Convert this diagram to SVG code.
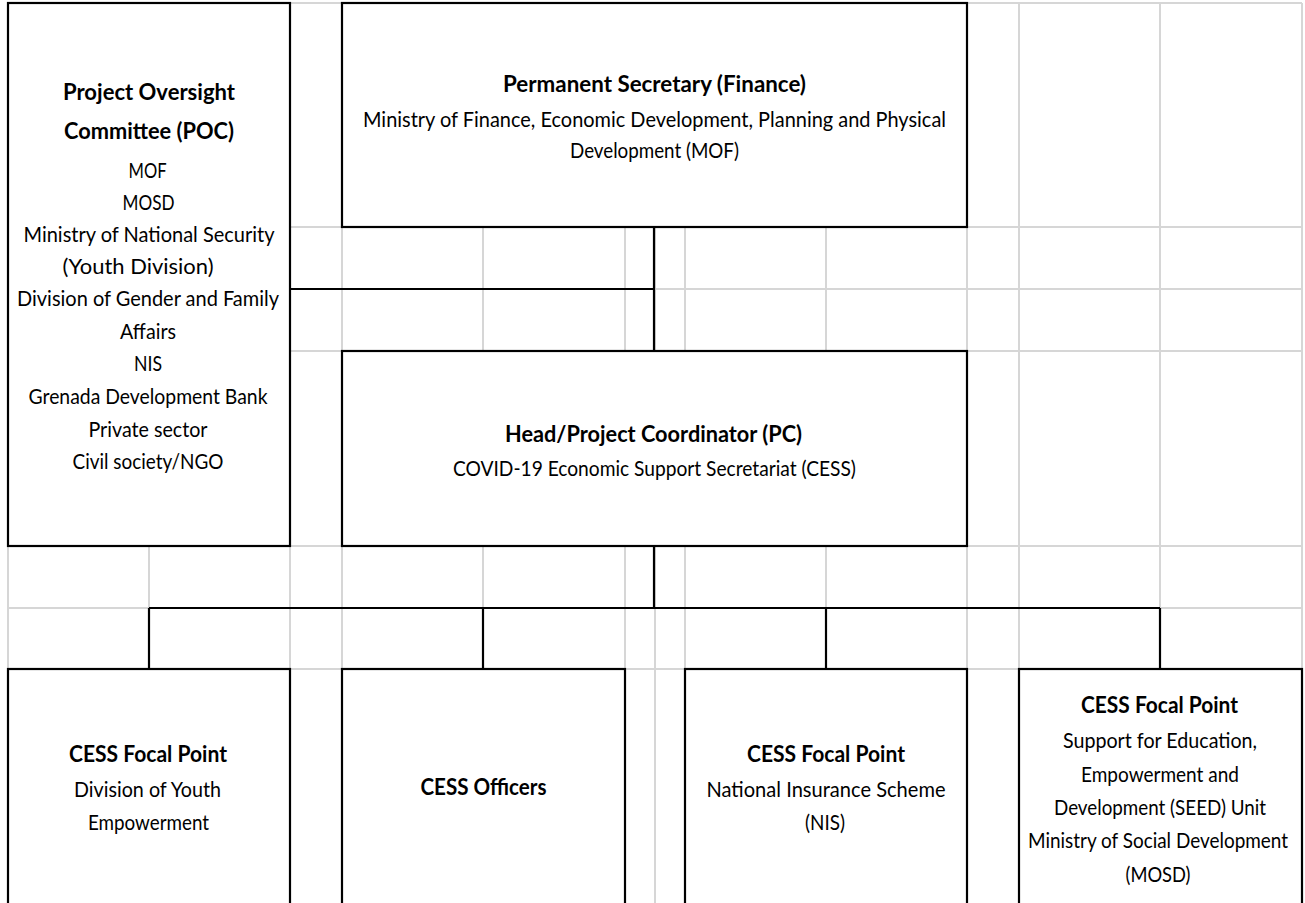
<svg xmlns="http://www.w3.org/2000/svg" width="1305" height="903" viewBox="0 0 1305 903">
<style>
.grid line{stroke:#d6d6d6;stroke-width:2}
.box{fill:#fff;stroke:#000;stroke-width:2.2}
.conn path{fill:none;stroke:#000;stroke-width:2.2}
text{font-family:Lato,"Open Sans","Liberation Sans",sans-serif;fill:#000;text-anchor:middle}
.b{font-weight:700;font-size:23px}
.r{font-weight:400;font-size:21px}
</style>
<rect width="1305" height="903" fill="#fff"/>
<g class="grid">
<line x1="8" y1="3" x2="8" y2="903"/>
<line x1="149" y1="3" x2="149" y2="903"/>
<line x1="290" y1="3" x2="290" y2="903"/>
<line x1="342" y1="3" x2="342" y2="903"/>
<line x1="483" y1="3" x2="483" y2="903"/>
<line x1="625" y1="3" x2="625" y2="903"/>
<line x1="655" y1="3" x2="655" y2="903"/>
<line x1="685" y1="3" x2="685" y2="903"/>
<line x1="826" y1="3" x2="826" y2="903"/>
<line x1="967" y1="3" x2="967" y2="903"/>
<line x1="1019" y1="3" x2="1019" y2="903"/>
<line x1="1160" y1="3" x2="1160" y2="903"/>
<line x1="1302" y1="3" x2="1302" y2="903"/>
<line x1="8" y1="3" x2="1302" y2="3"/>
<line x1="8" y1="227" x2="1302" y2="227"/>
<line x1="8" y1="289" x2="1302" y2="289"/>
<line x1="8" y1="351" x2="1302" y2="351"/>
<line x1="8" y1="546" x2="1302" y2="546"/>
<line x1="8" y1="608" x2="1302" y2="608"/>
<line x1="8" y1="669" x2="1302" y2="669"/>
</g>
<g class="conn">
<path d="M654,227 V351"/>
<path d="M290,289 H654"/>
<path d="M654,546 V608"/>
<path d="M149,608 H1160"/>
<path d="M149,608 V669"/>
<path d="M483,608 V669"/>
<path d="M826,608 V669"/>
<path d="M1160,608 V669"/>
</g>
<g id="poc">
<rect class="box" x="8" y="3" width="282" height="543"/>
<text class="b" x="149" y="100" textLength="172" lengthAdjust="spacingAndGlyphs">Project Oversight</text>
<text class="b" x="149" y="139" textLength="170" lengthAdjust="spacingAndGlyphs">Committee (POC)</text>
<text class="r" x="147.5" y="178" textLength="38" lengthAdjust="spacingAndGlyphs">MOF</text>
<text class="r" x="148.5" y="210" textLength="52" lengthAdjust="spacingAndGlyphs">MOSD</text>
<text class="r" x="149" y="242" textLength="251" lengthAdjust="spacingAndGlyphs">Ministry of National Security</text>
<text class="r" x="138" y="274" textLength="151" lengthAdjust="spacingAndGlyphs">(Youth Division)</text>
<text class="r" x="148" y="306" textLength="262" lengthAdjust="spacingAndGlyphs">Division of Gender and Family</text>
<text class="r" x="148" y="339" textLength="56" lengthAdjust="spacingAndGlyphs">Affairs</text>
<text class="r" x="148" y="371" textLength="28" lengthAdjust="spacingAndGlyphs">NIS</text>
<text class="r" x="148" y="404" textLength="239" lengthAdjust="spacingAndGlyphs">Grenada Development Bank</text>
<text class="r" x="148" y="437" textLength="119" lengthAdjust="spacingAndGlyphs">Private sector</text>
<text class="r" x="148" y="469" textLength="151" lengthAdjust="spacingAndGlyphs">Civil society/NGO</text>
</g>
<g id="ps">
<rect class="box" x="342" y="3" width="625" height="224"/>
<text class="b" x="654.5" y="92" textLength="303" lengthAdjust="spacingAndGlyphs">Permanent Secretary (Finance)</text>
<text class="r" x="654.5" y="127" textLength="583" lengthAdjust="spacingAndGlyphs">Ministry of Finance, Economic Development, Planning and Physical</text>
<text class="r" x="654.5" y="158" textLength="169" lengthAdjust="spacingAndGlyphs">Development (MOF)</text>
</g>
<g id="hpc">
<rect class="box" x="342" y="351" width="625" height="195"/>
<text class="b" x="653.5" y="442" textLength="297" lengthAdjust="spacingAndGlyphs">Head/Project Coordinator (PC)</text>
<text class="r" x="654.5" y="476" textLength="403" lengthAdjust="spacingAndGlyphs">COVID-19 Economic Support Secretariat (CESS)</text>
</g>
<g id="youth">
<rect class="box" x="8" y="669" width="282" height="236"/>
<text class="b" x="148" y="762" textLength="158" lengthAdjust="spacingAndGlyphs">CESS Focal Point</text>
<text class="r" x="147.5" y="797" textLength="147" lengthAdjust="spacingAndGlyphs">Division of Youth</text>
<text class="r" x="148.5" y="830" textLength="121" lengthAdjust="spacingAndGlyphs">Empowerment</text>
</g>
<g id="officers">
<rect class="box" x="342" y="669" width="283" height="236"/>
<text class="b" x="483.5" y="795" textLength="126" lengthAdjust="spacingAndGlyphs">CESS Officers</text>
</g>
<g id="nis">
<rect class="box" x="685" y="669" width="282" height="236"/>
<text class="b" x="826" y="762" textLength="158" lengthAdjust="spacingAndGlyphs">CESS Focal Point</text>
<text class="r" x="826" y="797" textLength="239" lengthAdjust="spacingAndGlyphs">National Insurance Scheme</text>
<text class="r" x="825" y="830" textLength="40" lengthAdjust="spacingAndGlyphs">(NIS)</text>
</g>
<g id="seed">
<rect class="box" x="1019" y="669" width="283" height="236"/>
<text class="b" x="1159.5" y="713" textLength="157" lengthAdjust="spacingAndGlyphs">CESS Focal Point</text>
<text class="r" x="1160" y="748" textLength="194" lengthAdjust="spacingAndGlyphs">Support for Education,</text>
<text class="r" x="1160" y="782" textLength="158" lengthAdjust="spacingAndGlyphs">Empowerment and</text>
<text class="r" x="1160" y="815" textLength="212" lengthAdjust="spacingAndGlyphs">Development (SEED) Unit</text>
<text class="r" x="1158" y="848" textLength="260" lengthAdjust="spacingAndGlyphs">Ministry of Social Development</text>
<text class="r" x="1158" y="882" textLength="65" lengthAdjust="spacingAndGlyphs">(MOSD)</text>
</g>
</svg>
